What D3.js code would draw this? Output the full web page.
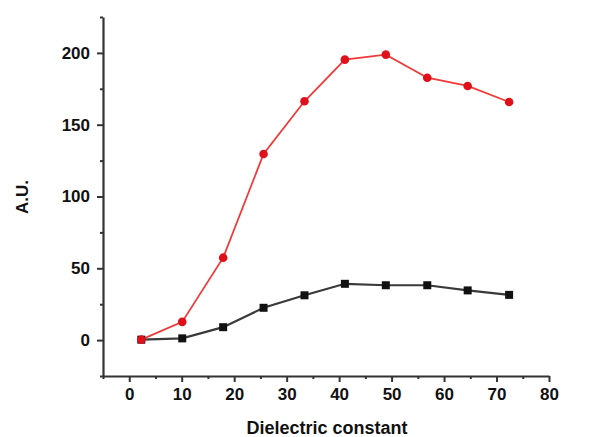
<!DOCTYPE html>
<html><head><meta charset="utf-8">
<script src="https://cdn.jsdelivr.net/npm/d3@7/dist/d3.min.js"></script>
<style>
html,body{margin:0;padding:0;background:#fff;}
svg{display:block;}
text{font-family:"Liberation Sans",Arial,sans-serif;font-weight:bold;fill:#111;}
</style></head>
<body><svg id="c" width="590" height="437"></svg>
<script>
const dielectric = [2.3, 10.1, 17.9, 25.6, 33.4, 41.1, 48.9, 56.8, 64.5, 72.4];
const redSeries = [0.3, 12.7, 57.4, 129.6, 166.3, 195.3, 198.8, 182.7, 177.0, 165.8];
const blackSeries = [0.3, 1.2, 9.0, 22.5, 31.2, 39.2, 38.2, 38.2, 34.6, 31.5];
const xTicks = [0, 10, 20, 30, 40, 50, 60, 70, 80];
const xMinor = [-5, 5, 15, 25, 35, 45, 55, 65, 75];
const yTicks = [0, 50, 100, 150, 200];
const yMinor = [-25, 25, 75, 125, 175, 225];
const xLabel = "Dielectric constant";
const yLabel = "A.U.";

const svg = d3.select("#c");
const L = 103, R = 549, T = 17, B = 376;
const x = d3.scaleLinear().domain([-5, 80]).range([L, R]);
const y = d3.scaleLinear().domain([-25, 225]).range([B, T]);
const axisColor = "#333";

// X axis
const gx = svg.append("g").attr("transform", `translate(0,${B})`)
  .call(d3.axisBottom(x).tickValues(xTicks).tickSize(6).tickSizeOuter(0).tickPadding(6));
gx.selectAll(".tick text").style("font-size", "17px").attr("dy", "0.71em");
svg.append("g").attr("transform", `translate(0,${B})`)
  .call(d3.axisBottom(x).tickValues(xMinor).tickSize(3).tickSizeOuter(0).tickFormat(""))
  .select(".domain").remove();

// Y axis
const gy = svg.append("g").attr("transform", `translate(${L},0)`)
  .call(d3.axisLeft(y).tickValues(yTicks).tickSize(6).tickSizeOuter(0).tickPadding(7));
gy.selectAll(".tick text").style("font-size", "17px");
svg.append("g").attr("transform", `translate(${L},0)`)
  .call(d3.axisLeft(y).tickValues(yMinor).tickSize(3).tickSizeOuter(0).tickFormat(""))
  .select(".domain").remove();

svg.selectAll(".domain").attr("stroke", axisColor).attr("stroke-width", 2.2);
svg.selectAll(".tick line").attr("stroke", axisColor).attr("stroke-width", 2);

// Labels
svg.append("text").attr("x", 327).attr("y", 434).attr("text-anchor", "middle")
  .style("font-size", "18px").text(xLabel);
svg.append("text").attr("transform", "translate(28,197) rotate(-90)").attr("text-anchor", "middle")
  .style("font-size", "17px").text(yLabel);

const line = d3.line().x(d => x(d[0])).y(d => y(d[1]));
const redData = dielectric.map((d, i) => [d, redSeries[i]]);
const blackData = dielectric.map((d, i) => [d, blackSeries[i]]);

svg.append("path").datum(blackData).attr("d", line).attr("fill", "none")
  .attr("stroke", "#3a3a3a").attr("stroke-width", 2.2);
svg.append("path").datum(redData).attr("d", line).attr("fill", "none")
  .attr("stroke", "#f03a3a").attr("stroke-width", 1.8);

svg.selectAll("rect.bk").data(blackData).enter().append("rect").attr("class", "bk")
  .attr("x", d => x(d[0]) - 4).attr("y", d => y(d[1]) - 4)
  .attr("width", 8).attr("height", 8).attr("fill", "#111");
svg.selectAll("circle.rd").data(redData).enter().append("circle").attr("class", "rd")
  .attr("cx", d => x(d[0])).attr("cy", d => y(d[1])).attr("r", 4.3)
  .attr("fill", "#e0101a");
</script></body></html>
